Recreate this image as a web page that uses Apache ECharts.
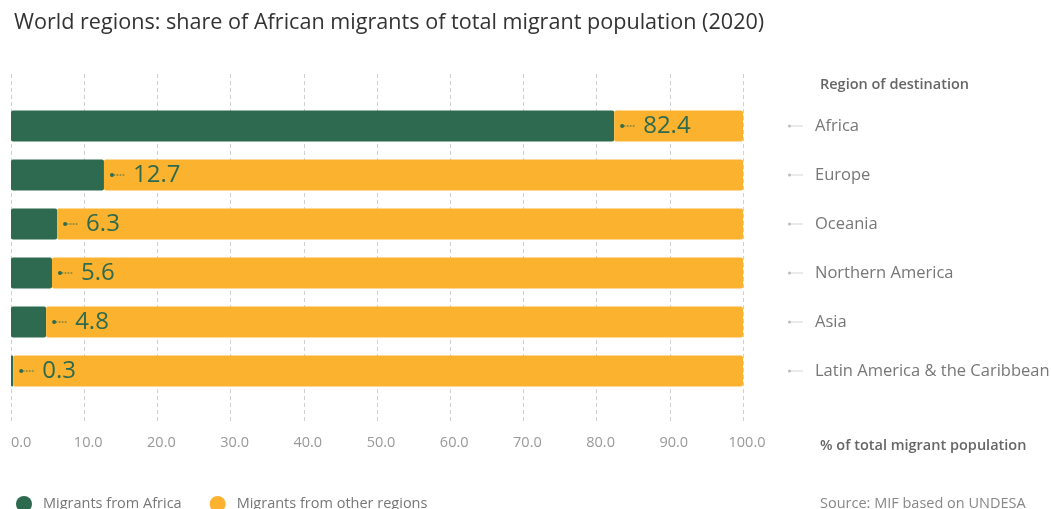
<!DOCTYPE html>
<html><head><meta charset="utf-8">
<script src="https://cdn.jsdelivr.net/npm/echarts@6/dist/echarts.min.js"></script>
<style>html,body{margin:0;padding:0;background:#fff}#c{width:1051px;height:509px}</style>
</head><body><div id="c"></div>
<script>
const regions = ['Africa', 'Europe', 'Oceania', 'Northern America', 'Asia', 'Latin America & the Caribbean'];
const fromAfrica = [82.4, 12.7, 6.3, 5.6, 4.8, 0.3];
const fromOther = [17.6, 87.3, 93.7, 94.4, 95.2, 99.7];
const xTicks = [0, 10, 20, 30, 40, 50, 60, 70, 80, 90, 100];
const seriesNames = ['Migrants from Africa', 'Migrants from other regions'];

const GREEN = '#2d6a4f', ORANGE = '#fbb22f';
const FONT = 'Open Sans';
const chart = echarts.init(document.getElementById('c'), null, {renderer: 'canvas'});
chart.setOption({
  backgroundColor: '#fff',
  textStyle: {fontFamily: FONT},
  title: [
    {text: 'World regions: share of African migrants of total migrant population (2020)', left: 9, top: 7,
     textStyle: {fontFamily: FONT, fontSize: 21.6, fontWeight: 'normal', color: '#333'}},
    {text: 'Region of destination', left: 815, top: 72,
     textStyle: {fontFamily: FONT, fontSize: 14.5, fontWeight: 600, color: '#666'}},
    {text: '% of total migrant population', left: 815, top: 433,
     textStyle: {fontFamily: FONT, fontSize: 14.5, fontWeight: 600, color: '#666'}},
    {text: 'Source: MIF based on UNDESA', left: 815, top: 491,
     textStyle: {fontFamily: FONT, fontSize: 14.5, fontWeight: 'normal', color: '#888'}}
  ],
  legend: {
    left: 11, top: 491, icon: 'circle', itemWidth: 16, itemHeight: 16, itemGap: 28,
    data: seriesNames,
    textStyle: {fontFamily: FONT, fontSize: 14.5, color: '#777', padding: [0, 0, 0, 6]}
  },
  grid: [
    {left: 11, right: 308, top: 101.5, bottom: 113.5, outerBoundsMode: 'none', containLabel: false},
    {left: 11, right: 308, top: 74, bottom: 86, outerBoundsMode: 'none', containLabel: false}
  ],
  xAxis: [
    {gridIndex: 0, type: 'value', min: 0, max: 100, show: false},
    {gridIndex: 1, type: 'value', min: 0, max: 100, interval: 10,
     axisLine: {show: false}, axisTick: {show: false},
     splitLine: {show: true, lineStyle: {type: [4, 3], color: '#d0d0d0', width: 1}},
     axisLabel: {margin: 12, alignMinLabel: 'left',
       formatter: v => xTicks.includes(v) ? (v === 0 ? '{a|' + v.toFixed(1) + '}' : '{b|' + v.toFixed(1) + '}') : '',
       rich: {
         a: {fontFamily: FONT, fontSize: 14.5, color: '#999'},
         b: {fontFamily: FONT, fontSize: 14.5, color: '#999', padding: [0, 0, 0, 8]}
       }}}
  ],
  yAxis: [
    {gridIndex: 0, type: 'category', data: regions, inverse: true, position: 'right',
     axisLine: {show: false}, axisTick: {show: false}, splitLine: {show: false},
     axisLabel: {margin: 45, formatter: v => '{dot|}{ln|}{t|' + v + '}',
       rich: {
         dot: {width: 3, height: 3, borderRadius: 1.5, backgroundColor: '#bbb'},
         ln: {width: 12, height: 1, backgroundColor: '#d5d5d5'},
         t: {fontFamily: FONT, fontSize: 16.5, color: '#777', padding: [0, 0, 0, 12]}
       }}},
    {gridIndex: 1, type: 'value', show: false}
  ],
  series: [
    {name: seriesNames[0], type: 'bar', stack: 'total', xAxisIndex: 0, yAxisIndex: 0,
     data: fromAfrica, barWidth: 31, itemStyle: {color: GREEN, borderRadius: 2},
     label: {show: true, position: 'right', distance: 6,
       formatter: p => '{dot|}{ln|}{v|' + p.value.toFixed(1) + '}',
       rich: {
         dot: {width: 4, height: 4, borderRadius: 2, backgroundColor: GREEN},
         ln: {width: 11, height: 0, borderColor: GREEN, borderWidth: 0.6, borderType: [1.5, 1.5]},
         v: {fontFamily: FONT, fontSize: 24, color: GREEN, padding: [0, 0, 0, 8]}
       }}},
    {name: seriesNames[1], type: 'bar', stack: 'total', xAxisIndex: 0, yAxisIndex: 0,
     data: fromOther, barWidth: 31, itemStyle: {color: ORANGE, borderRadius: 2}}
  ]
});
</script></body></html>
